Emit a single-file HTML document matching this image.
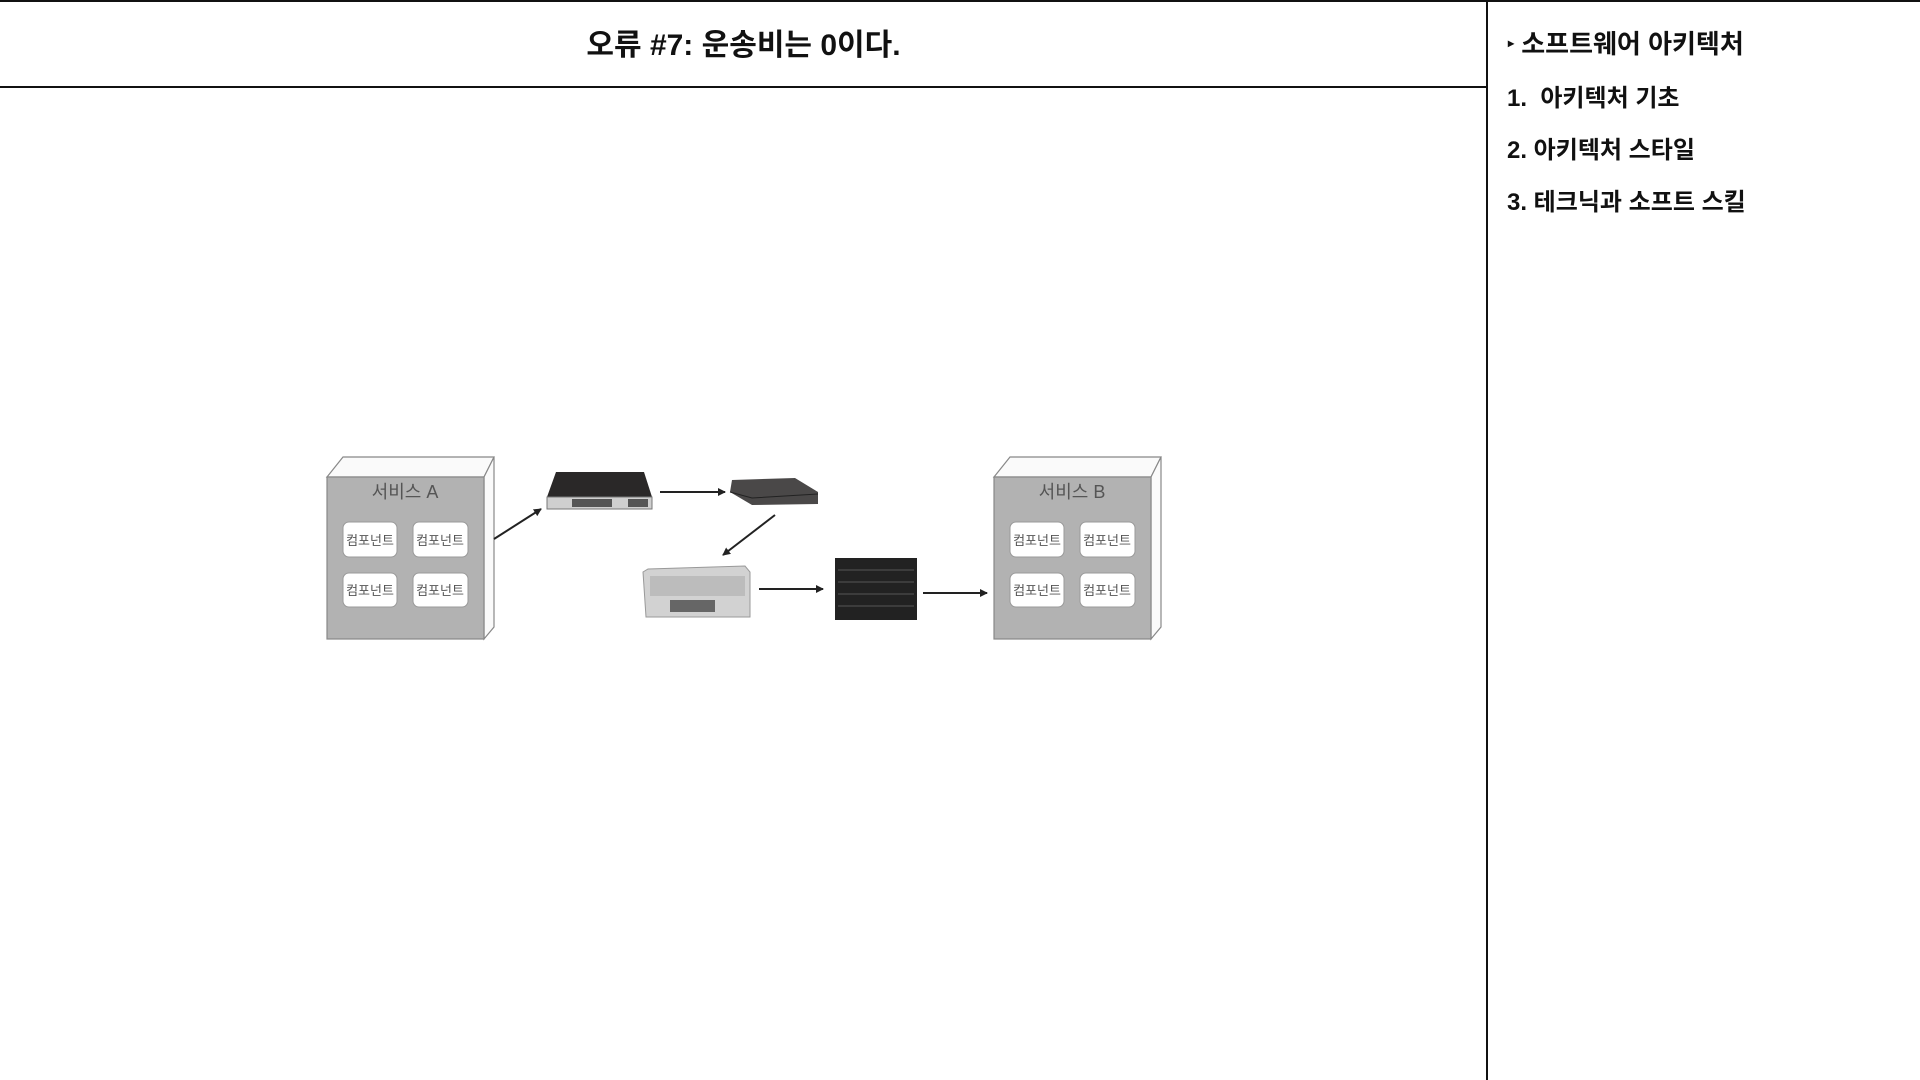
<!DOCTYPE html>
<html><head><meta charset="utf-8"><style>
html,body{margin:0;padding:0;background:#fff;}
body{width:1920px;height:1080px;position:relative;overflow:hidden;font-family:"Liberation Sans","Noto Sans CJK KR",sans-serif;}
.t{position:absolute;font-weight:bold;color:#111;white-space:nowrap;}
</style></head><body>
<div style="position:absolute;left:0;top:0;width:1920px;height:2px;background:#111"></div>
<div style="position:absolute;left:0;top:86px;width:1487px;height:2px;background:#111"></div>
<div style="position:absolute;left:1486px;top:0;width:2px;height:1080px;background:#111"></div>
<div class="t" style="left:0;width:1487px;text-align:center;top:20px;font-size:30px;">오류 #7: 운송비는 0이다.</div>
<div class="t" style="left:1508px;top:24px;font-size:26px;"><span style="font-size:12px;vertical-align:middle;position:relative;top:-3px">▸</span> 소프트웨어 아키텍처</div>
<div class="t" style="left:1507px;top:78px;font-size:24px;">1.&nbsp; 아키텍처 기초</div>
<div class="t" style="left:1507px;top:130px;font-size:24px;">2.&nbsp;아키텍처 스타일</div>
<div class="t" style="left:1507px;top:182px;font-size:24px;">3.&nbsp;테크닉과 소프트 스킬</div>
<svg width="1920" height="1080" style="position:absolute;left:0;top:0" font-family="Liberation Sans, Noto Sans CJK KR, sans-serif">
<defs><marker id="a" markerWidth="8" markerHeight="8" refX="7" refY="4" orient="auto" markerUnits="userSpaceOnUse"><path d="M0,0 L8,4 L0,8z" fill="#222"/></marker></defs>
<g stroke="#888" stroke-width="1.2">
<path d="M327,477 L343,457 L494,457 L484,477z" fill="#fafafa"/>
<path d="M484,477 L494,457 L494,627 L484,639z" fill="#fafafa"/>
<rect x="327" y="477" width="157" height="162" fill="#b2b2b2"/>
<path d="M994,477 L1010,457 L1161,457 L1151,477z" fill="#fafafa"/>
<path d="M1151,477 L1161,457 L1161,627 L1151,639z" fill="#fafafa"/>
<rect x="994" y="477" width="157" height="162" fill="#b2b2b2"/>
</g>
<g fill="#fff" stroke="#999" stroke-width="1">
<rect x="343" y="522" width="54" height="35" rx="6"/><rect x="413" y="522" width="55" height="35" rx="6"/>
<rect x="343" y="573" width="54" height="34" rx="6"/><rect x="413" y="573" width="55" height="34" rx="6"/>
<rect x="1010" y="522" width="54" height="35" rx="6"/><rect x="1080" y="522" width="55" height="35" rx="6"/>
<rect x="1010" y="573" width="54" height="34" rx="6"/><rect x="1080" y="573" width="55" height="34" rx="6"/>
</g>
<g fill="#555" font-size="13" text-anchor="middle">
<text x="370" y="545">컴포넌트</text><text x="440" y="545">컴포넌트</text>
<text x="370" y="595">컴포넌트</text><text x="440" y="595">컴포넌트</text>
<text x="1037" y="545">컴포넌트</text><text x="1107" y="545">컴포넌트</text>
<text x="1037" y="595">컴포넌트</text><text x="1107" y="595">컴포넌트</text>
</g>
<g fill="#555" font-size="18" text-anchor="middle">
<text x="405" y="498">서비스 A</text><text x="1072" y="498">서비스 B</text>
</g>
<path d="M556,472 L644,472 L652,497 L547,497z" fill="#2a2828"/>
<rect x="547" y="497" width="105" height="12" fill="#cfcfcf" stroke="#777"/>
<g fill="#555"><rect x="572" y="499" width="40" height="8"/><rect x="628" y="499" width="20" height="8"/></g>
<path d="M732,480 L795,478 L818,492 L818,504 L752,505 L730,492z" fill="#4a4848"/>
<path d="M730,492 L752,498 L818,494" stroke="#222" fill="none"/>
<path d="M648,569 L745,566 L750,572 L750,617 L646,617 L643,572z" fill="#d2d2d2" stroke="#999"/>
<rect x="650" y="576" width="95" height="20" fill="#bcbcbc"/>
<rect x="670" y="600" width="45" height="12" fill="#666"/>
<rect x="835" y="558" width="82" height="62" fill="#222"/>
<g stroke="#555" stroke-width="1"><line x1="838" y1="570" x2="914" y2="570"/><line x1="838" y1="582" x2="914" y2="582"/><line x1="838" y1="594" x2="914" y2="594"/><line x1="838" y1="606" x2="914" y2="606"/></g>
<g stroke="#222" stroke-width="2" marker-end="url(#a)">
<line x1="494" y1="539" x2="541" y2="509"/>
<line x1="660" y1="492" x2="725" y2="492"/>
<line x1="775" y1="515" x2="723" y2="555"/>
<line x1="759" y1="589" x2="823" y2="589"/>
<line x1="923" y1="593" x2="987" y2="593"/>
</g>
</svg>
</body></html>
